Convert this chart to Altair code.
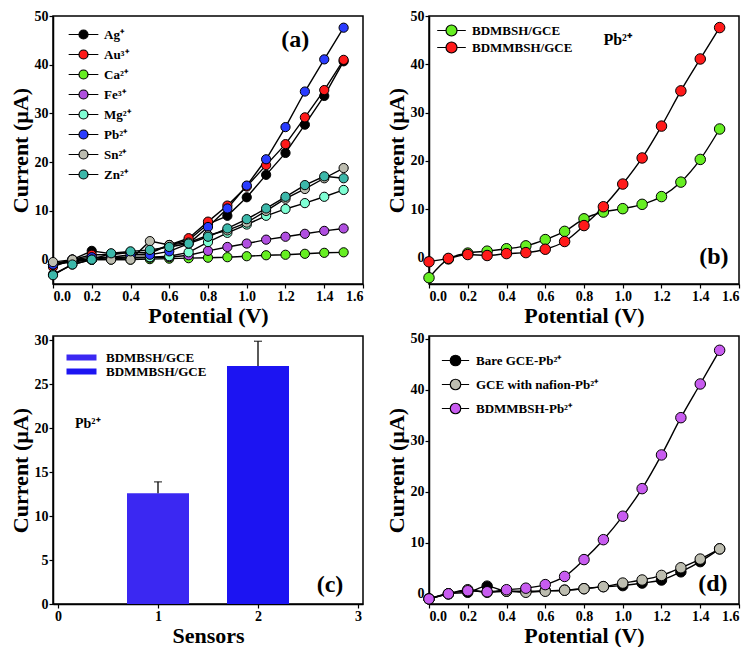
import altair as alt
import pandas as pd

potential = [0.0, 0.1, 0.2, 0.3, 0.4, 0.5, 0.6, 0.7, 0.8, 0.9, 1.0, 1.1, 1.2, 1.3, 1.4, 1.5]

# Panel (a): interference of metal ions
ions = ["Ag⁺", "Au³⁺", "Ca²⁺", "Fe³⁺", "Mg²⁺", "Pb²⁺", "Sn²⁺", "Zn²⁺"]
ion_colors = ["#000000", "#ff1a1a", "#66ee22", "#b04fe0", "#7fffd4", "#2a3cff", "#bdbdb0", "#3cb8aa"]
ag = [-1.0, 0.0, 1.8, 1.2, 1.5, 1.3, 3.0, 4.0, 7.3, 9.0, 12.8, 17.4, 21.9, 27.7, 33.6, 40.7]
au = [-1.5, 0.0, 1.0, 1.0, 1.5, 1.5, 3.0, 4.4, 7.8, 11.1, 15.0, 19.4, 23.7, 29.2, 34.8, 41.0]
ca = [-1.0, -0.3, 0.0, 0.0, 0.0, 0.1, 0.2, 0.3, 0.4, 0.5, 0.7, 0.9, 1.0, 1.2, 1.4, 1.5]
fe = [-1.0, -0.5, 0.0, 0.2, 0.3, 0.4, 0.5, 0.9, 1.8, 2.6, 3.3, 4.1, 4.7, 5.3, 5.9, 6.4]
mg = [-3.0, -1.0, 0.0, 0.5, 0.5, 0.5, 0.7, 1.5, 3.6, 5.5, 7.2, 9.0, 10.4, 11.6, 12.9, 14.3]
pb = [-1.0, 0.0, 0.5, 0.5, 1.0, 1.0, 1.7, 3.3, 6.7, 10.5, 15.2, 20.6, 27.2, 34.5, 41.1, 47.6]
sn = [-0.5, 0.0, 0.0, 0.0, 0.0, 3.8, 3.0, 3.5, 5.0, 6.0, 7.6, 10.0, 12.5, 14.5, 16.7, 18.8]
zn = [-3.2, -1.0, 0.0, 1.3, 1.7, 2.0, 2.6, 3.3, 4.7, 6.4, 8.3, 10.5, 12.9, 15.3, 17.1, 16.7]

# Panel (b): two modified electrodes with Pb2+
electrodes = ["BDMBSH/GCE", "BDMMBSH/GCE"]
electrode_colors = ["#66ee22", "#ff1a1a"]
bdmbsh = [-4.2, -0.3, 0.9, 1.3, 1.8, 2.4, 3.7, 5.4, 8.0, 9.4, 10.1, 11.0, 12.6, 15.6, 20.3, 26.6]
bdmmbsh = [-0.9, -0.2, 0.6, 0.4, 0.8, 1.0, 1.7, 3.3, 6.6, 10.5, 15.2, 20.6, 27.2, 34.5, 41.1, 47.6]

# Panel (c): bar chart of sensors
sensors = [1, 2]
sensor_names = ["BDMBSH/GCE", "BDMMBSH/GCE"]
sensor_current = [12.6, 27.1]
sensor_error = [1.3, 2.8]
sensor_colors = ["#3b28f2", "#1c14f2"]

# Panel (d): electrode comparison
electrodes_d = ["Bare GCE-Pb²⁺", "GCE with nafion-Pb²⁺", "BDMMBSH-Pb²⁺"]
electrode_d_colors = ["#000000", "#bdbdb0", "#c85cf0"]
bare = [-1.0, 0.0, 0.3, 1.5, 0.5, 0.5, 0.6, 0.7, 1.0, 1.4, 1.6, 2.1, 2.7, 4.3, 6.3, 8.8]
nafion = [-1.0, 0.0, 0.8, 0.3, 0.5, 0.3, 0.5, 0.7, 1.0, 1.4, 2.1, 2.7, 3.6, 5.1, 6.8, 8.8]
bdmm_d = [-1.0, 0.0, 0.6, 0.4, 0.8, 1.1, 1.8, 3.4, 6.7, 10.6, 15.2, 20.6, 27.2, 34.5, 41.1, 47.7]

panel_labels = ["(a)", "(b)", "(c)", "(d)"]
ion_note = "Pb²⁺"

W, H = 310, 268
SERIF = "Liberation Serif"
LINE_SYM = "M-3.3,0H-1M1,0H3.3M-1,0A1,1 0 1,1 1,0A1,1 0 1,1 -1,0Z"
LINE_SYM_B = "M-2.6,0H-1M1,0H2.6M-1,0A1,1 0 1,1 1,0A1,1 0 1,1 -1,0Z"
RECT_SYM = "M-5,-1H5V1H-5Z"
X_TICKS = [0, 0.2, 0.4, 0.6, 0.8, 1.0, 1.2, 1.4, 1.6]


def long_df(names, series, field):
    rows = []
    for n, ys in zip(names, series):
        for x, y in zip(potential, ys):
            rows.append({"V": x, "I": y, field: n})
    return pd.DataFrame(rows)


def xaxis():
    return alt.X("V:Q", title="Potential (V)",
                 scale=alt.Scale(domain=[0, 1.6], nice=False),
                 axis=alt.Axis(values=X_TICKS, tickCount=20, format=".1f", labelOverlap=False))


def yaxis(domain, values):
    return alt.Y("I:Q", title="Current (µA)",
                 scale=alt.Scale(domain=domain, nice=False, zero=False),
                 axis=alt.Axis(values=values, tickCount=20, format="d", labelOverlap=False))


def note(text, x, y, size, align="center"):
    return alt.Chart(pd.DataFrame({"t": [text]})).mark_text(
        font=SERIF, fontWeight="bold", fontSize=size, align=align, baseline="middle", color="black"
    ).encode(x=alt.datum(x), y=alt.datum(y), text="t:N")


def line_panel(df, field, names, colors, ydom, size, interp, legend):
    base = alt.Chart(df)
    lines = base.mark_line(color="black", strokeWidth=1.4, interpolate=interp).encode(
        x=xaxis(), y=yaxis(ydom, [0, 10, 20, 30, 40, 50]), detail=f"{field}:N",
        order="V:Q")
    pts = base.mark_circle(size=size, stroke="black", strokeWidth=1, opacity=1).encode(
        x=xaxis(), y=yaxis(ydom, [0, 10, 20, 30, 40, 50]),
        fill=alt.Fill(f"{field}:N", scale=alt.Scale(domain=names, range=colors),
                      sort=names, legend=legend))
    return lines, pts


# (a)
df_a = long_df(ions, [ag, au, ca, fe, mg, pb, sn, zn], "ion")
leg_a = alt.Legend(title=None, orient="none", legendX=24, legendY=12, symbolType=LINE_SYM,
                   symbolSize=81, symbolStrokeColor="black", symbolStrokeWidth=1.2,
                   labelFont=SERIF, labelFontWeight="bold", labelFontSize=13, labelColor="black",
                   labelOffset=14, rowPadding=5, padding=0)
la, pa = line_panel(df_a, "ion", ions, ion_colors, [-5, 50], 85, "linear", leg_a)
chart_a = alt.layer(la, pa, note(panel_labels[0], 1.25, 45, 24)).properties(width=W, height=H)

# (b)
df_b = long_df(electrodes, [bdmbsh, bdmmbsh], "electrode")
leg_b = alt.Legend(title=None, orient="none", legendX=16, legendY=8, symbolType=LINE_SYM_B,
                   symbolSize=121, symbolStrokeColor="black", symbolStrokeWidth=1.2,
                   labelFont=SERIF, labelFontWeight="bold", labelFontSize=13, labelColor="black",
                   labelOffset=14, rowPadding=0, padding=0)
lb, pb_ = line_panel(df_b, "electrode", electrodes, electrode_colors, [-5.5, 50], 110, "monotone", leg_b)
chart_b = alt.layer(lb, pb_, note(ion_note, 0.9, 45, 16, "left"),
                    note(panel_labels[1], 1.47, 0, 24)).properties(width=W, height=H)

# (c)
df_c = pd.DataFrame({"S": sensors, "name": sensor_names, "I": sensor_current, "err": sensor_error})
base_c = alt.Chart(df_c).transform_calculate(hi="datum.I + datum.err")
x_c = alt.X("S:Q", title="Sensors", scale=alt.Scale(domain=[0, 3], nice=False),
            axis=alt.Axis(values=[0, 1, 2, 3], tickCount=20, format="d"))
y_c = alt.Y("I:Q", title="Current (µA)", scale=alt.Scale(domain=[0, 30.5], nice=False),
            axis=alt.Axis(values=[0, 5, 10, 15, 20, 25, 30], tickCount=20, format="d",
                          labelOverlap=False))
leg_c = alt.Legend(title=None, orient="none", legendX=22, legendY=15, symbolType=RECT_SYM,
                   symbolSize=36, symbolStrokeWidth=0,
                   labelFont=SERIF, labelFontWeight="bold", labelFontSize=13, labelColor="black",
                   labelOffset=18, rowPadding=0, padding=0)
bars = base_c.mark_bar(size=62, orient="vertical").encode(
    x=x_c, y=y_c,
    fill=alt.Fill("name:N", scale=alt.Scale(domain=sensor_names, range=sensor_colors),
                  sort=sensor_names, legend=leg_c))
err_rule = base_c.mark_rule(color="black", strokeWidth=1.3).encode(x="S:Q", y="I:Q", y2="hi:Q")
err_cap = base_c.mark_tick(orient="horizontal", size=8, thickness=1.3, color="black").encode(
    x="S:Q", y="hi:Q")
chart_c = alt.layer(bars, err_rule, err_cap, note(ion_note, 0.17, 20.5, 14, "left"),
                    note(panel_labels[2], 2.72, 2.2, 24)).properties(width=W, height=H)

# (d)
df_d = long_df(electrodes_d, [bare, nafion, bdmm_d], "elec")
leg_d = alt.Legend(title=None, orient="none", legendX=20, legendY=18, symbolType=LINE_SYM_B,
                   symbolSize=110, symbolStrokeColor="black", symbolStrokeWidth=1.2,
                   labelFont=SERIF, labelFontWeight="bold", labelFontSize=13, labelColor="black",
                   labelOffset=14, rowPadding=7, padding=0)
ld, pd_ = line_panel(df_d, "elec", electrodes_d, electrode_d_colors, [-2, 50.5], 110, "monotone", leg_d)
chart_d = alt.layer(ld, pd_, note(panel_labels[3], 1.465, 2, 24)).properties(width=W, height=H)

chart = alt.concat(chart_a, chart_b, chart_c, chart_d, columns=2,
                   spacing=alt.RowColnumber(row=52, column=66),
                   bounds="flush", padding=0, background="white"
).resolve_scale(fill="independent").resolve_legend(fill="independent").configure_axis(
    labelFont=SERIF, labelFontWeight="bold", labelFontSize=14, labelColor="black",
    titleFont=SERIF, titleFontWeight="bold", titleFontSize=22, titleColor="black",
    tickSize=4, tickColor="black", tickWidth=1.2, domainColor="black", domainWidth=1.5,
    grid=False, labelPadding=1, titlePadding=2, labelOverlap=False
).configure_view(stroke="black", strokeWidth=1.5)

chart.save("out.html", embed_options={"renderer": "svg", "actions": False})
